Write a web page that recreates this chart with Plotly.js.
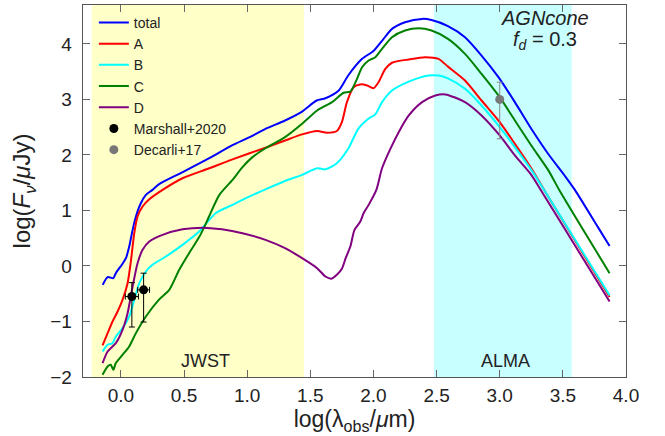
<!DOCTYPE html>
<html>
<head>
<meta charset="utf-8">
<script src="https://cdn.plot.ly/plotly-3.0.1.min.js"></script>
<style>html,body{margin:0;padding:0;background:#fff;}#chart{width:665px;height:436px;}</style>
</head>
<body>
<div id="chart"></div>
<script>
// ---- data ----
const xTotal = [-0.144,-0.105,-0.06,-0.04,0.013,0.04,0.066,0.093,0.119,0.158,0.198,0.25,0.30,0.49,0.70,0.88,1.02,1.145,1.30,1.435,1.55,1.62,1.725,1.80,1.91,2.00,2.07,2.147,2.25,2.385,2.46,2.59,2.725,2.856,2.99,3.12,3.25,3.38,3.52,3.595,3.78,3.87];
const yTotal = [-0.34,-0.20,-0.22,-0.13,0.04,0.14,0.35,0.65,0.89,1.13,1.28,1.37,1.47,1.69,1.94,2.17,2.32,2.47,2.62,2.78,2.98,3.02,3.16,3.43,3.73,3.87,4.06,4.27,4.39,4.45,4.43,4.32,4.12,3.79,3.40,2.95,2.47,2.03,1.61,1.37,0.69,0.36];

const xA = [-0.145,-0.105,-0.066,-0.026,0.013,0.053,0.079,0.106,0.132,0.172,0.225,0.33,0.488,0.70,0.884,1.145,1.30,1.435,1.554,1.633,1.71,1.75,1.79,1.843,1.896,1.95,2.0,2.04,2.094,2.147,2.28,2.41,2.515,2.59,2.725,2.856,3.0,3.12,3.25,3.357,3.87];
const yA = [-1.43,-1.21,-1.00,-0.82,-0.61,-0.31,0.08,0.59,0.89,1.07,1.20,1.37,1.58,1.76,1.92,2.13,2.26,2.37,2.43,2.40,2.43,2.59,2.95,3.22,3.27,3.25,3.20,3.31,3.55,3.66,3.72,3.76,3.73,3.59,3.34,2.98,2.59,2.20,1.76,1.35,-0.56];

const xB = [-0.145,-0.105,-0.066,-0.04,0.013,0.066,0.106,0.146,0.198,0.25,0.356,0.488,0.62,0.75,0.884,1.016,1.145,1.30,1.435,1.554,1.62,1.71,1.80,1.88,1.96,2.015,2.068,2.147,2.28,2.437,2.515,2.59,2.725,2.856,3.0,3.12,3.25,3.357,3.87];
const yB = [-1.54,-1.42,-1.39,-1.27,-1.12,-0.91,-0.61,-0.31,-0.10,0.02,0.17,0.38,0.62,0.95,1.10,1.25,1.38,1.53,1.64,1.76,1.74,1.85,2.11,2.47,2.65,2.73,2.95,3.16,3.32,3.43,3.43,3.38,3.19,2.89,2.50,2.14,1.73,1.35,-0.53];

const xC = [-0.145,-0.105,-0.08,-0.06,-0.04,0.013,0.066,0.119,0.198,0.30,0.383,0.462,0.54,0.62,0.66,0.70,0.78,0.884,0.963,1.042,1.145,1.30,1.435,1.554,1.672,1.764,1.817,1.87,1.91,1.962,2.015,2.068,2.147,2.25,2.357,2.46,2.59,2.725,2.856,3.0,3.12,3.25,3.383,3.476,3.87];
const yC = [-1.96,-1.81,-1.78,-1.87,-1.75,-1.60,-1.45,-1.21,-0.91,-0.61,-0.43,-0.07,0.23,0.52,0.70,0.90,1.28,1.55,1.78,1.96,2.12,2.32,2.56,2.80,2.95,3.12,3.14,3.37,3.58,3.70,3.76,3.91,4.12,4.24,4.28,4.24,4.09,3.82,3.46,3.04,2.62,2.17,1.73,1.35,-0.13];

const xD = [-0.145,-0.105,-0.066,-0.04,0.013,0.053,0.093,0.132,0.172,0.225,0.33,0.488,0.646,0.80,0.963,1.145,1.30,1.435,1.554,1.62,1.667,1.71,1.75,1.78,1.817,1.85,1.896,1.922,1.962,2.023,2.068,2.134,2.20,2.28,2.385,2.49,2.57,2.725,2.856,3.0,3.12,3.25,3.33,3.87];
const yD = [-1.75,-1.54,-1.45,-1.39,-1.15,-0.85,-0.37,0.05,0.29,0.44,0.56,0.66,0.69,0.66,0.59,0.47,0.32,0.14,-0.04,-0.19,-0.23,-0.16,-0.05,0.14,0.35,0.65,0.80,0.95,1.10,1.37,1.76,2.11,2.41,2.71,2.95,3.07,3.09,2.95,2.71,2.35,1.99,1.64,1.35,-0.64];

const xMarshall = [0.087, 0.18];
const yMarshall = [-0.55, -0.43];
const marshallErrUp = [0.25, 0.30];
const marshallErrDown = [0.55, 0.58];
const marshallErrX = [0.052, 0.047];

const xDecarli = [3.0];
const yDecarli = [3.0];
const decarliErrUp = [0.31];
const decarliErrDown = [0.71];

const jwstBand = [-0.23, 1.45];
const almaBand = [2.48, 3.57];

const seriesNames = ['total','A','B','C','D'];
const seriesColors = ['#0000ff','#ff0000','#00ffff','#008000','#800080'];
const seriesX = [xTotal, xA, xB, xC, xD];
const seriesY = [yTotal, yA, yB, yC, yD];

// ---- traces ----
const FONT = 'Liberation Sans, Arial, sans-serif';
const traces = seriesNames.map((n, i) => ({
  type: 'scatter', mode: 'lines', name: n,
  x: seriesX[i], y: seriesY[i],
  line: {color: seriesColors[i], width: 2, shape: 'spline', smoothing: 0.7}
}));
traces.push({
  type: 'scatter', mode: 'markers', name: 'Marshall+2020',
  x: xMarshall, y: yMarshall,
  marker: {color: '#000000', size: 9},
  error_y: {type: 'data', symmetric: false, array: marshallErrUp, arrayminus: marshallErrDown, color: '#000000', thickness: 1, width: 3},
  error_x: {type: 'data', array: marshallErrX, color: '#000000', thickness: 1, width: 3}
});
traces.push({
  type: 'scatter', mode: 'markers', name: 'Decarli+17',
  x: xDecarli, y: yDecarli,
  marker: {color: '#777777', size: 9},
  error_y: {type: 'data', symmetric: false, array: decarliErrUp, arrayminus: decarliErrDown, color: '#888888', thickness: 1, width: 3}
});

const axisCommon = {
  showline: true, mirror: 'ticks', linecolor: '#555555', linewidth: 1.3,
  ticks: 'inside', ticklen: 7, tickwidth: 1, tickcolor: '#666666',
  showgrid: false, zeroline: false,
  tickfont: {family: FONT, size: 19, color: '#222222'}
};

const layout = {
  width: 665, height: 436,
  margin: {l: 83, r: 39, t: 5, b: 59},
  paper_bgcolor: '#ffffff', plot_bgcolor: '#ffffff',
  font: {family: FONT, color: '#222222'},
  showlegend: true,
  legend: {x: 0.02, y: 0.995, xanchor: 'left', yanchor: 'top', bgcolor: 'rgba(0,0,0,0)',
           font: {family: FONT, size: 14, color: '#222222'}, tracegroupgap: 0},
  xaxis: Object.assign({}, axisCommon, {
    range: [-0.3, 4.0], tickvals: [0,0.5,1,1.5,2,2.5,3,3.5,4], tickformat: '.1f',
    ticklabelstandoff: 1,
    title: {text: 'log(λ<sub>obs</sub>/<i>μ</i>m)', font: {family: FONT, size: 23, color: '#222222'}, standoff: 2}
  }),
  yaxis: Object.assign({}, axisCommon, {
    range: [-2, 4.7], tickvals: [-2,-1,0,1,2,3,4],
    ticklabelstandoff: 6,
    title: {text: 'log(<i>F</i><sub><i>ν</i></sub>/<i>μ</i>Jy)', font: {family: FONT, size: 24, color: '#222222'}, standoff: 12}
  }),
  shapes: [
    {type: 'rect', xref: 'x', yref: 'paper', x0: jwstBand[0], x1: jwstBand[1], y0: 0, y1: 1,
     fillcolor: 'rgb(255,255,200)', line: {width: 0}, layer: 'below'},
    {type: 'rect', xref: 'x', yref: 'paper', x0: almaBand[0], x1: almaBand[1], y0: 0, y1: 1,
     fillcolor: 'rgb(200,255,255)', line: {width: 0}, layer: 'below'}
  ],
  annotations: [
    {xref: 'paper', yref: 'paper', x: 0.851, y: 0.966, text: '<i>AGNcone</i>', showarrow: false,
     font: {family: FONT, size: 20, color: '#222222'}, xanchor: 'center', yanchor: 'middle'},
    {xref: 'paper', yref: 'paper', x: 0.851, y: 0.905, text: '<i>f</i><sub><i>d</i></sub> = 0.3', showarrow: false,
     font: {family: FONT, size: 20, color: '#222222'}, xanchor: 'center', yanchor: 'middle'},
    {xref: 'paper', yref: 'paper', x: 0.225, y: 0.042, text: 'JWST', showarrow: false,
     font: {family: FONT, size: 18, color: '#222222'}, xanchor: 'center', yanchor: 'middle'},
    {xref: 'paper', yref: 'paper', x: 0.779, y: 0.044, text: 'ALMA', showarrow: false,
     font: {family: FONT, size: 18, color: '#222222'}, xanchor: 'center', yanchor: 'middle'}
  ]
};

Plotly.newPlot('chart', traces, layout, {displayModeBar: false, staticPlot: true});
</script>
</body>
</html>
